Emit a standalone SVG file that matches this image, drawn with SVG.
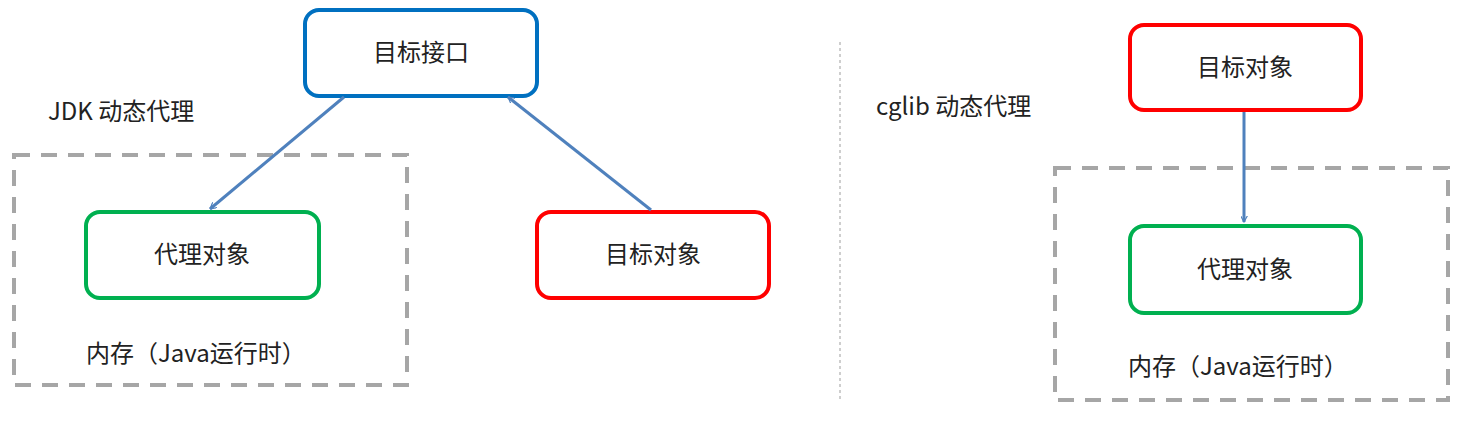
<svg xmlns="http://www.w3.org/2000/svg" width="1462" height="424" viewBox="0 0 1462 424">
<style>
text{font-family:"Noto Sans CJK SC","Noto Sans",sans-serif;font-size:24px;fill:#222}
.c{text-anchor:middle}
.n{fill:#fff;stroke-width:4}
.d{fill:none;stroke:#A6A6A6;stroke-width:4;stroke-dasharray:16 11}
.a{stroke:#4F81BD;stroke-width:3;fill:none;marker-end:url(#ah)}
</style>
<defs><marker id="ah" viewBox="0 0 12 12" refX="11" refY="6" markerWidth="7" markerHeight="7" markerUnits="userSpaceOnUse" orient="auto"><path d="M0,0 L11,6 L0,12" fill="none" stroke="#4F81BD" stroke-width="2"/></marker></defs>
<rect width="1462" height="424" fill="#fff"/>
<g id="dividers">
<line x1="840" y1="42" x2="840" y2="400" stroke="#BFBFBF" stroke-width="1.5" stroke-dasharray="3 3"/>
</g>
<g id="mem-left"><rect class="d" x="14" y="155" width="393" height="230"/><text x="86" y="362">内存（Java运行时）</text></g>
<g id="mem-right"><rect class="d" x="1055" y="168" width="393" height="232"/><text x="1128" y="375">内存（Java运行时）</text></g>
<text x="48" y="120">JDK 动态代理</text>
<text x="876" y="115">cglib 动态代理</text>
<g id="iface"><rect class="n" x="305" y="10" width="232" height="86" rx="14" stroke="#0070C0"/><text class="c" x="421" y="61">目标接口</text></g>
<g id="proxy-l"><rect class="n" x="86" y="212" width="233" height="86" rx="14" stroke="#00B050"/><text class="c" x="202" y="263">代理对象</text></g>
<g id="target-l"><rect class="n" x="537" y="212" width="232" height="86" rx="14" stroke="#FF0000"/><text class="c" x="653" y="263">目标对象</text></g>
<g id="target-r"><rect class="n" x="1130" y="25" width="231" height="85" rx="14" stroke="#FF0000"/><text class="c" x="1245" y="76">目标对象</text></g>
<g id="proxy-r"><rect class="n" x="1130" y="226" width="231" height="87" rx="14" stroke="#00B050"/><text class="c" x="1245" y="278">代理对象</text></g>
<g id="connectors">
<line class="a" x1="344" y1="97" x2="210" y2="209"/>
<line class="a" x1="651" y1="210" x2="508" y2="97"/>
<line class="a" x1="1244" y1="112" x2="1244" y2="222"/>
</g>
</svg>
